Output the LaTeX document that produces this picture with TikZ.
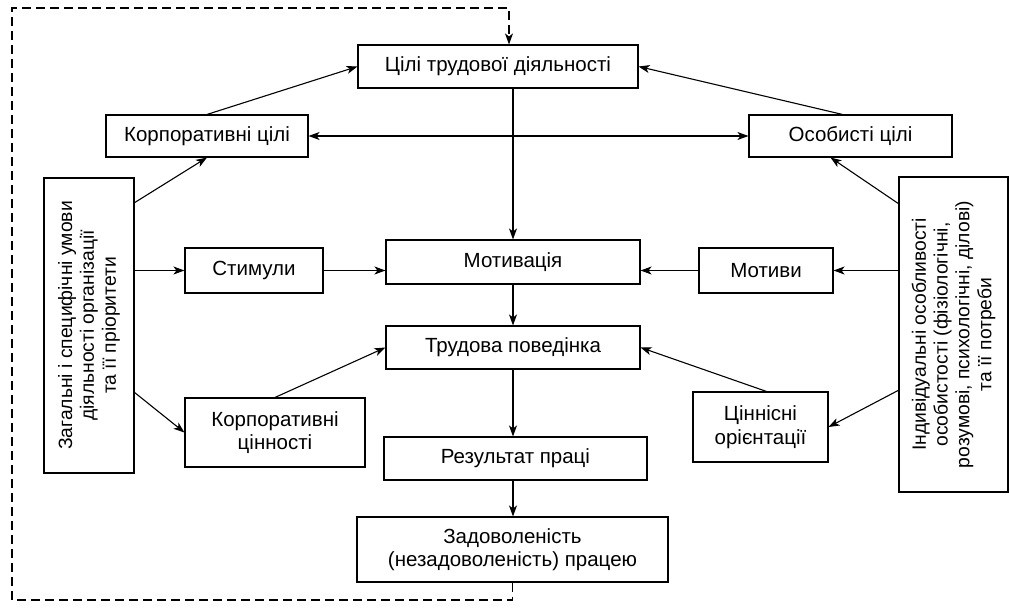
\documentclass[tikz,border=0pt]{standalone}
\usepackage{fontspec}
\setmainfont{Liberation Sans}
\usetikzlibrary{arrows.meta,calc}

\begin{document}
\begin{tikzpicture}[x=1pt,y=-1pt,
  every node/.style={font=\fontsize{20.5}{23.5}\selectfont},
  side/.style={font=\fontsize{19.3}{21.8}\selectfont},
  box/.style={draw, line width=1.1pt, align=center, inner sep=0pt},
  link/.style={line width=1.1pt, -{Stealth[length=11pt,width=8pt,inset=3pt]}},
  dlink/.style={line width=1.1pt, {Stealth[length=11pt,width=8pt,inset=3pt]}-{Stealth[length=11pt,width=8pt,inset=3pt]}},
  feedback/.style={line width=1.1pt, dash pattern=on 9pt off 5pt, -{Stealth[length=11pt,width=8pt,inset=3pt]}}]

\useasboundingbox (0,0) rectangle (1010,608);

% central chain
\node[box, minimum width=280, minimum height=43] (goal)   at (498,66.5)  {Цілі трудової діяльності};
\node[box, minimum width=254, minimum height=44] (motiv)  at (513,262)   {Мотивація};
\node[box, minimum width=254, minimum height=43] (behav)  at (513,347.5) {Трудова поведінка};
\node[box, minimum width=263, minimum height=43] (result) at (515.5,458.5) {Результат праці};
\node[box, minimum width=311, minimum height=65] (satisf) at (512.5,549.5) {Задоволеність\\(незадоволеність) працею};

% goals
\node[box, minimum width=202, minimum height=42] (corpg) at (207,136)   {Корпоративні цілі};
\node[box, minimum width=203, minimum height=42] (persg) at (850.5,136) {Особисті цілі};

% left side
\node[box, side, minimum width=295, minimum height=90, rotate=90] (cond) at (89,325.5)
  {Загальні і специфічні умови\\діяльності організації\\та її пріоритети};
\node[box, minimum width=138, minimum height=45] (stim)  at (254,270.5) {Стимули};
\node[box, minimum width=180, minimum height=69] (corpv) at (275,432.5) {Корпоративні\\цінності};

% right side
\node[box, side, minimum width=315, minimum height=109, rotate=90] (indiv) at (953.5,334.5)
  {Індивідуальні особливості\\особистості (фізіологічні,\\розумові, психологічні, ділові)\\та її потреби};
\node[box, minimum width=134, minimum height=45] (motives) at (766,270.5) {Мотиви};
\node[box, minimum width=135, minimum height=70] (valor)   at (760.5,427) {Ціннісні\\орієнтації};

% connectors
\draw[link] (corpg.north) -- (goal.west);
\draw[link] ($(persg.north)+(-8,0)$) -- (goal.east);
\draw[dlink] (corpg.east) -- (persg.west);
\draw[link] ($(goal.south)+(15,0)$) -- (motiv.north);
\draw[link] (motiv.south) -- (behav.north);
\draw[link] (behav.south) -- (behav.south |- result.north);
\draw[link] (behav.south |- result.south) -- (behav.south |- satisf.north);

\draw[link] (134,203) -- (corpg.south);
\draw[link] (134,270.5) -- (stim.west);
\draw[link] (stim.east) -- (stim.east -| motiv.west);
\draw[link] (134,392) -- (corpv.west);
\draw[link] (corpv.north) -- (behav.west);

\draw[link] (899,204) -- ($(persg.south)+(-20,0)$);
\draw[link] (899,270.5) -- (motives.east);
\draw[link] (motives.west) -- (motives.west -| motiv.east);
\draw[link] (899,390) -- (valor.east);
\draw[link] ($(valor.north)+(6,0)$) -- (behav.east);

% feedback loop
\coordinate (fbL) at (12,600);
\coordinate (ftL) at (12,8);
\draw[feedback] (satisf.south) |- (fbL) -- (ftL) -| ($(goal.north)+(11,0)$);
\end{tikzpicture}
\end{document}
